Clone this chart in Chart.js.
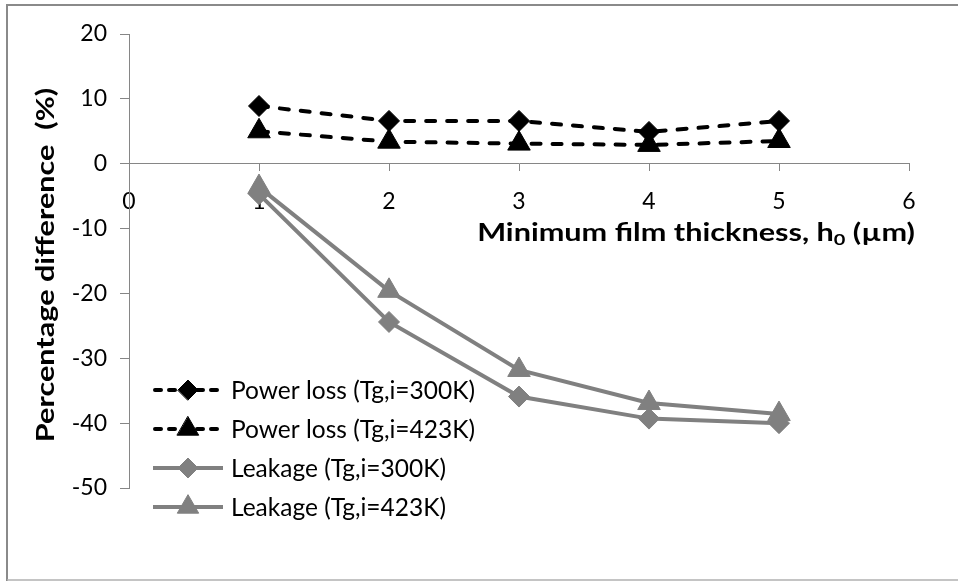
<!DOCTYPE html>
<html>
<head>
<meta charset="utf-8">
<title>Percentage difference vs minimum film thickness</title>
<script src="https://cdn.jsdelivr.net/npm/chart.js@4/dist/chart.umd.min.js"></script>
<style>
  html, body { margin: 0; padding: 0; background: #fff; }
  #wrap { width: 958px; height: 581px; position: relative; }
</style>
</head>
<body>
<div id="wrap"><canvas id="chart" width="958" height="581"></canvas></div>
<script>
// Minimum film thickness h0 (µm)
const thickness = [1, 2, 3, 4, 5];

// Percentage difference (%) for each series
const powerLoss300 = [8.9, 6.6, 6.6, 4.9, 6.6];
const powerLoss423 = [5.0, 3.4, 3.1, 2.9, 3.5];
const leakage300 = [-4.7, -24.4, -35.9, -39.3, -40.0];
const leakage423 = [-3.6, -19.6, -31.8, -36.9, -38.6];

const seriesNames = [
  'Power loss (Tg,i=300K)',
  'Power loss (Tg,i=423K)',
  'Leakage (Tg,i=300K)',
  'Leakage (Tg,i=423K)'
];

// Axis ranges / tick steps
const xRange = [0, 6];
const xStep = 1;
const yRange = [-50, 20];
const yStep = 10;

const yTitle = 'Percentage difference  (%)';
const xTitleParts = ['Minimum film thickness, h', '0', ' (µm)'];

const FONT = 'Lato, "Open Sans", "DejaVu Sans", sans-serif';
const AXIS_GREY = '#868686';
const LEAK_GREY = '#808080';
const TITLE_SIZE = 24.5;
const TITLE_STRETCH = 1.25;

const toPoints = (vals) => thickness.map((x, i) => ({ x: x, y: vals[i] }));

const datasets = [
  {
    label: seriesNames[0], data: toPoints(powerLoss300),
    borderColor: '#000', backgroundColor: '#000', borderWidth: 4,
    borderDash: [9, 12], borderCapStyle: 'round',
    pointStyle: 'rectRot', pointRadius: 10.5, pointBorderWidth: 1,
    pointBackgroundColor: '#000', pointBorderColor: '#000'
  },
  {
    label: seriesNames[1], data: toPoints(powerLoss423),
    borderColor: '#000', backgroundColor: '#000', borderWidth: 4,
    borderDash: [9, 12], borderCapStyle: 'round',
    pointStyle: 'triangle', pointRadius: 13, pointBorderWidth: 1,
    pointBackgroundColor: '#000', pointBorderColor: '#000'
  },
  {
    label: seriesNames[2], data: toPoints(leakage300),
    borderColor: LEAK_GREY, backgroundColor: LEAK_GREY, borderWidth: 4,
    pointStyle: 'rectRot', pointRadius: 10.5, pointBorderWidth: 1,
    pointBackgroundColor: LEAK_GREY, pointBorderColor: LEAK_GREY
  },
  {
    label: seriesNames[3], data: toPoints(leakage423),
    borderColor: LEAK_GREY, backgroundColor: LEAK_GREY, borderWidth: 4,
    pointStyle: 'triangle', pointRadius: 13, pointBorderWidth: 1,
    pointBackgroundColor: LEAK_GREY, pointBorderColor: LEAK_GREY
  }
];

// Frame around the whole chart
const framePlugin = {
  id: 'frame',
  beforeDraw(chart) {
    const ctx = chart.ctx;
    ctx.save();
    ctx.fillStyle = '#fff';
    ctx.fillRect(0, 0, chart.width, chart.height);
    ctx.strokeStyle = '#8a8a8a';
    ctx.lineWidth = 2;
    ctx.beginPath();
    ctx.moveTo(7, chart.height);
    ctx.lineTo(7, 5);
    ctx.lineTo(chart.width, 5);
    ctx.stroke();
    ctx.strokeStyle = '#b0b0b0';
    ctx.lineWidth = 1.5;
    ctx.beginPath();
    ctx.moveTo(7, 580);
    ctx.lineTo(chart.width, 580);
    ctx.stroke();
    ctx.restore();
  }
};

// Draws a point marker in a dataset's style
function marker(ctx, ds, x, y) {
  ctx.fillStyle = ds.pointBackgroundColor;
  ctx.strokeStyle = ds.pointBorderColor;
  ctx.lineWidth = ds.pointBorderWidth;
  ctx.setLineDash([]);
  Chart.helpers.drawPoint(ctx, {
    pointStyle: ds.pointStyle, rotation: 0,
    radius: ds.pointRadius * 0.95, borderWidth: ds.pointBorderWidth
  }, x, y);
}

// Legend block inside the plot, lower left
const legendPlugin = {
  id: 'insideLegend',
  afterDraw(chart) {
    const ctx = chart.ctx;
    const area = chart.chartArea;
    const x0 = area.left + 24;
    const lineLen = 70;
    const top = 390;
    const step = 39;
    ctx.save();
    chart.data.datasets.forEach((ds, i) => {
      const y = top + i * step;
      ctx.strokeStyle = ds.borderColor;
      ctx.lineWidth = ds.borderWidth;
      ctx.lineCap = ds.borderCapStyle || 'butt';
      ctx.setLineDash(ds.borderDash ? [6, 8] : []);
      ctx.beginPath();
      ctx.moveTo(x0 + (ds.borderDash ? 2 : 0), y);
      ctx.lineTo(x0 + lineLen, y);
      ctx.stroke();
      marker(ctx, ds, x0 + lineLen / 2, y);
      ctx.fillStyle = '#000';
      ctx.font = '24.5px ' + FONT;
      ctx.textAlign = 'left';
      ctx.textBaseline = 'middle';
      ctx.fillText(ds.label, x0 + lineLen + 8, y + 1);
    });
    ctx.restore();
  }
};

// Axis titles: x title with subscript, right-aligned under the crossing axis;
// y title rotated, centred on the plot height
const titlesPlugin = {
  id: 'axisTitles',
  afterDraw(chart) {
    const ctx = chart.ctx;
    const xs = chart.scales.x;
    const ys = chart.scales.y;
    const mainFont = 'bold ' + TITLE_SIZE + 'px ' + FONT;
    const subFont = 'bold ' + Math.round(TITLE_SIZE * 0.66) + 'px ' + FONT;

    ctx.save();
    ctx.fillStyle = '#000';
    ctx.textBaseline = 'alphabetic';
    ctx.textAlign = 'left';
    ctx.font = mainFont;
    const wa = ctx.measureText(xTitleParts[0]).width;
    const wc = ctx.measureText(xTitleParts[2]).width;
    ctx.font = subFont;
    const wb = ctx.measureText(xTitleParts[1]).width;
    const total = (wa + wb + wc) * TITLE_STRETCH;
    const right = xs.right + 6;
    const base = ys.getPixelForValue(0) + 77;
    ctx.translate(right - total, base);
    ctx.scale(TITLE_STRETCH, 1);
    ctx.font = mainFont;
    ctx.fillText(xTitleParts[0], 0, 0);
    ctx.font = subFont;
    ctx.fillText(xTitleParts[1], wa, 4);
    ctx.font = mainFont;
    ctx.fillText(xTitleParts[2], wa + wb, 0);
    ctx.restore();

    ctx.save();
    ctx.fillStyle = '#000';
    ctx.font = mainFont;
    ctx.textAlign = 'center';
    ctx.textBaseline = 'middle';
    const cy = (ys.top + ys.bottom) / 2 + 4;
    ctx.translate(46, cy);
    ctx.rotate(-Math.PI / 2);
    ctx.scale(TITLE_STRETCH, 1);
    ctx.fillText(yTitle, 0, 0);
    ctx.restore();
  }
};

new Chart(document.getElementById('chart'), {
  type: 'line',
  data: { datasets: datasets },
  options: {
    responsive: false,
    devicePixelRatio: 1,
    animation: false,
    layout: { padding: { left: 8, top: 34, right: 49, bottom: 93 } },
    plugins: {
      legend: { display: false },
      tooltip: { enabled: false },
      title: { display: false }
    },
    scales: {
      x: {
        type: 'linear',
        position: { y: 0 },
        min: xRange[0], max: xRange[1],
        ticks: {
          stepSize: xStep,
          color: '#000',
          font: { family: FONT, size: 23 },
          padding: 17,
          maxRotation: 0
        },
        grid: { drawOnChartArea: false, drawTicks: true, tickLength: 7, color: AXIS_GREY, lineWidth: 1 },
        border: { display: true, color: AXIS_GREY, width: 1 }
      },
      y: {
        type: 'linear',
        position: 'left',
        min: yRange[0], max: yRange[1],
        afterFit(scale) { scale.width = 121; },
        ticks: {
          stepSize: yStep,
          color: '#000',
          font: { family: FONT, size: 23 },
          padding: 13
        },
        grid: { drawOnChartArea: false, drawTicks: true, tickLength: 9, color: AXIS_GREY, lineWidth: 1 },
        border: { display: true, color: AXIS_GREY, width: 1 },
        title: { display: false }
      }
    }
  },
  plugins: [framePlugin, legendPlugin, titlesPlugin]
});
</script>
</body>
</html>
